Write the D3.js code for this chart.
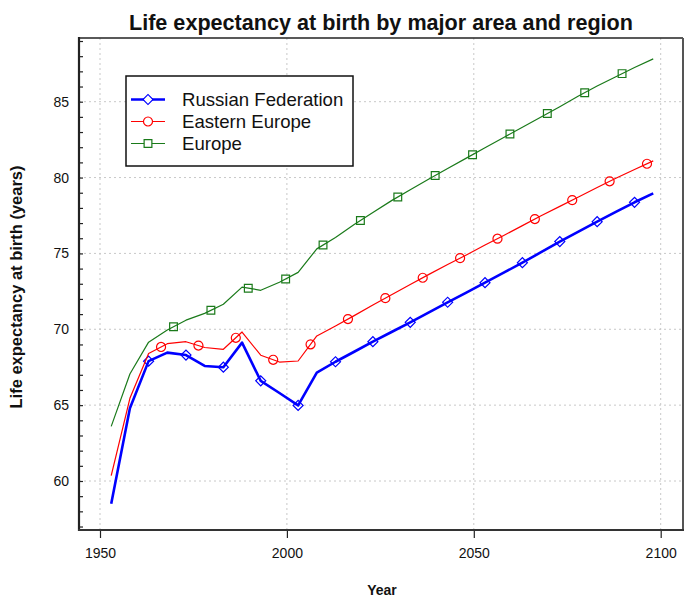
<!DOCTYPE html>
<html><head><meta charset="utf-8">
<script src="https://cdn.jsdelivr.net/npm/d3@7"></script>
<style>body{margin:0;background:#fff}text{font-family:"Liberation Sans",Arial,sans-serif}</style>
</head><body><svg id="c" width="695" height="600"></svg>
<script>
const years = [1953,1958,1963,1968,1973,1978,1983,1988,1993,1998,2003,2008,2013,2018,2023,2028,2033,2038,2043,2048,2053,2058,2063,2068,2073,2078,2083,2088,2093,2098];
const russia = [58.5,64.8,67.9,68.46,68.3,67.58,67.5,69.12,66.6,65.8,64.98,67.14,67.86,68.52,69.18,69.82,70.46,71.12,71.78,72.42,73.07,73.73,74.39,75.08,75.78,76.44,77.09,77.74,78.37,78.96];
const easternEurope = [60.35,65.45,68.4,69.05,69.18,68.8,68.68,69.82,68.29,67.84,67.91,69.56,70.22,70.9,71.6,72.28,72.95,73.62,74.27,74.9,75.55,76.18,76.83,77.48,78.1,78.72,79.35,79.95,80.53,81.1];
const europe = [63.6,67.05,69.15,69.95,70.6,71.05,71.65,72.78,72.57,73.1,73.75,75.3,76.05,76.9,77.7,78.48,79.2,79.9,80.6,81.28,81.96,82.64,83.32,83.99,84.67,85.37,86.03,86.65,87.25,87.82];
const seriesNames = ["Russian Federation","Eastern Europe","Europe"];
const xTicks = [1950,2000,2050,2100];
const yTicks = [60,65,70,75,80,85];

const series = [
  {name:seriesNames[0], values:russia, color:"#0000ff", width:2.6, marker:"diamond"},
  {name:seriesNames[1], values:easternEurope, color:"#ff0000", width:1.2, marker:"circle"},
  {name:seriesNames[2], values:europe, color:"#1a7a1a", width:1.2, marker:"square"}
];

const svg = d3.select("#c");
const L=79, R=683, T=38, B=530;
const x = d3.scaleLinear().domain([1950,2100]).range([100,660.7]);
const y = d3.scaleLinear().domain([60,85]).range([481,101.7]);
const xMin = x.invert(L), xMax = x.invert(R), yMin = y.invert(B), yMax = y.invert(T);

// grid
const grid = svg.append("g").attr("stroke","#c8c8c8").attr("stroke-dasharray","2,3").attr("stroke-width",1);
xTicks.forEach(t=>grid.append("line").attr("x1",x(t)).attr("x2",x(t)).attr("y1",T).attr("y2",B));
yTicks.forEach(t=>grid.append("line").attr("x1",L).attr("x2",R).attr("y1",y(t)).attr("y2",y(t)));

// frame top/right
svg.append("line").attr("x1",L).attr("x2",R).attr("y1",T).attr("y2",T).attr("stroke","#222").attr("stroke-width",1.5);
svg.append("line").attr("x1",R).attr("x2",R).attr("y1",T).attr("y2",B).attr("stroke","#555").attr("stroke-width",2);

// y axis: minor ticks inward every year
const yAxis = d3.axisLeft(y).tickValues(d3.range(Math.ceil(yMin),Math.floor(yMax)+1)).tickSize(-4).tickFormat(d=> yTicks.includes(d)? d : "").tickPadding(10);
const gy = svg.append("g").attr("transform",`translate(${L},0)`).call(yAxis);
gy.select(".domain").remove();
gy.selectAll(".tick line").attr("stroke","#222").attr("stroke-width",1.2);
gy.selectAll("text").attr("font-size",14).attr("fill","#111").attr("font-family","Liberation Sans, Arial, sans-serif");
svg.append("line").attr("x1",L).attr("x2",L).attr("y1",T-1).attr("y2",B+1).attr("stroke","#222").attr("stroke-width",2.2);

// x axis
const xAxis = d3.axisBottom(x).tickValues(xTicks).tickSize(8).tickFormat(d3.format("d")).tickPadding(10);
const gx = svg.append("g").attr("transform",`translate(0,${B})`).call(xAxis);
gx.select(".domain").remove();
gx.selectAll(".tick line").attr("stroke","#222").attr("stroke-width",1.2);
gx.selectAll("text").attr("font-size",14).attr("fill","#111").attr("font-family","Liberation Sans, Arial, sans-serif");
svg.append("line").attr("x1",L-1).attr("x2",R+1).attr("y1",B).attr("y2",B).attr("stroke","#333").attr("stroke-width",2.2);

// lines
const line = d3.line().x((d,i)=>x(years[i])).y(d=>y(d));
const symbols = {diamond:d3.symbolSquare, circle:d3.symbolCircle, square:d3.symbolSquare};
const symSize = {diamond:50, circle:64, square:60};
const symRot = {diamond:45, circle:0, square:0};
const plot = svg.append("g");
series.forEach((s,i)=>{
  plot.append("path").datum(s.values).attr("d",line).attr("fill","none").attr("stroke",s.color).attr("stroke-width",s.width).attr("stroke-linejoin","round");
  const interp = d3.scaleLinear().domain(years).range(s.values);
  const mYears = d3.range(years[2] + i*10/3, years[years.length-1]+0.01, 10);
  plot.selectAll(null).data(mYears).join("path")
    .attr("transform",d=>`translate(${x(d)},${y(interp(d))}) rotate(${symRot[s.marker]})`)
    .attr("d",d3.symbol(symbols[s.marker], symSize[s.marker]))
    .attr("fill","none").attr("stroke",s.color).attr("stroke-width",1.2);
});

// legend
const lg = svg.append("g");
lg.append("rect").attr("x",126).attr("y",76).attr("width",227).attr("height",90).attr("fill","#fff").attr("stroke","#111").attr("stroke-width",1.5);
series.forEach((s,i)=>{
  const cy = 99.5 + i*22;
  lg.append("line").attr("x1",131).attr("x2",165).attr("y1",cy).attr("y2",cy).attr("stroke",s.color).attr("stroke-width",s.width);
  lg.append("path").attr("transform",`translate(148,${cy}) rotate(${symRot[s.marker]})`).attr("d",d3.symbol(symbols[s.marker], symSize[s.marker])).attr("fill","#fff").attr("stroke",s.color).attr("stroke-width",1.2);
  lg.append("text").attr("x",182).attr("y",cy+6.5).attr("font-size",18.6).attr("fill","#111").text(s.name);
});

// titles
svg.append("text").attr("x",381).attr("y",30).attr("text-anchor","middle").attr("font-size",21.6).attr("font-weight","bold").attr("fill","#111").text("Life expectancy at birth by major area and region");
svg.append("text").attr("x",382).attr("y",595).attr("text-anchor","middle").attr("font-size",14).attr("font-weight","bold").attr("fill","#111").text("Year");
svg.append("text").attr("transform","translate(22,287) rotate(-90)").attr("text-anchor","middle").attr("font-size",16.5).attr("font-weight","bold").attr("fill","#111").text("Life expectancy at birth (years)");
</script></body></html>
